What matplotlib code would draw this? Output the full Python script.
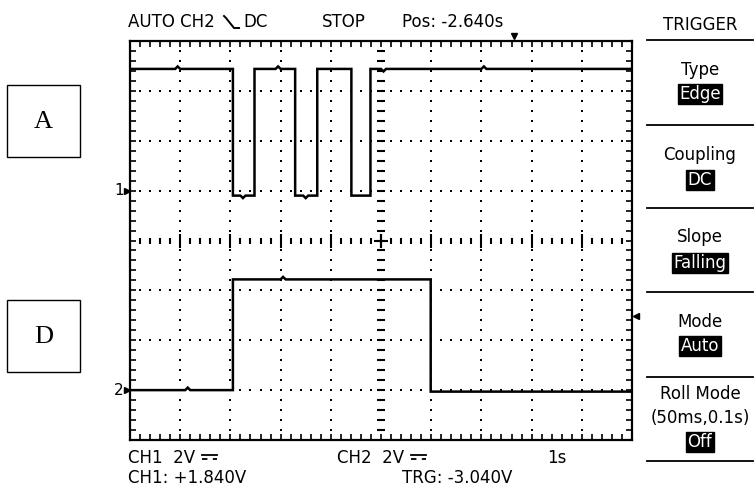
import matplotlib.pyplot as plt
import numpy as np
from matplotlib.patches import Rectangle
from matplotlib.lines import Line2D

##### scope settings (10 x 8 divisions)
time_per_div = 1.0          # 1s
ch1_volts_per_div = 2.0     # CH1 2V
ch2_volts_per_div = 2.0     # CH2 2V
ch1_ground_div = 1.0        # marker "1"
ch2_ground_div = -3.0       # marker "2"
trig_pos_s = -2.640
trig_level_v = -3.040

##### CH1 (A) three low pulses
ch1_t = [0.0, 0.9, 0.95, 1.0, 2.05, 2.05, 2.2, 2.25, 2.3, 2.48, 2.48, 2.9, 2.95, 3.0, 3.29, 3.29,
         3.45, 3.5, 3.55, 3.73, 3.73, 4.41, 4.41, 4.79, 4.79, 5.0, 5.05, 5.1, 7.0, 7.05, 7.1, 10.0]
ch1_v = [4.88, 4.88, 4.98, 4.88, 4.88, -0.2, -0.2, -0.3, -0.2, -0.2, 4.88, 4.88, 4.98, 4.88, 4.88, -0.2,
         -0.2, -0.3, -0.2, -0.2, 4.88, 4.88, -0.2, -0.2, 4.88, 4.88, 4.78, 4.88, 4.88, 4.98, 4.88, 4.88]

##### CH2 (D) one high pulse
ch2_t = [0.0, 1.1, 1.15, 1.2, 2.05, 2.05, 3.0, 3.05, 3.1, 5.99, 5.99, 10.0]
ch2_v = [0.0, 0.0, 0.1, 0.0, 0.0, 4.44, 4.44, 4.54, 4.44, 4.44, -0.06, -0.06]

W, H = 755, 488
fig = plt.figure(figsize=(W / 100, H / 100), dpi=100)
fig.patch.set_facecolor('white')

def fx(px):
    return px / W

def fy(py):
    return 1 - py / H

ax = fig.add_axes([fx(130), fy(440), fx(632) - fx(130), fy(41) - fy(440)])
ax.set_xlim(0, 10)
ax.set_ylim(-4, 4)
for s in ax.spines.values():
    s.set_linewidth(1.6)
ax.set_xticks(np.arange(0, 10.01, 0.2))
ax.set_yticks(np.arange(-4, 4.01, 0.2))
ax.tick_params(direction='in', length=4, width=1.2, top=True, right=True,
               labelbottom=False, labelleft=False)

##### graticule
xs = np.arange(0, 10.01, 0.2)[1:-1]
ys = np.arange(-4, 4.01, 0.2)[1:-1]
for k in range(1, 10):
    if k != 5:
        ax.plot([k] * len(ys), ys, 's', ms=1.8, color='black', mew=0)
for m in range(-3, 4):
    if m != 0:
        ax.plot(xs, [m] * len(xs), 's', ms=1.8, color='black', mew=0)
ax.plot([5] * len(ys), ys, '_', ms=6, mew=1.5, color='black')
major = np.isclose(xs, np.round(xs))
ax.plot(xs[~major], [0] * (~major).sum(), '|', ms=5, mew=1.5, color='black')
ax.plot(xs[major], [0] * major.sum(), '|', ms=10, mew=1.5, color='black')
ax.plot([5], [0], '+', ms=10, mew=1.5, color='black')

##### traces
ax.plot(np.array(ch1_t) / time_per_div, ch1_ground_div + np.array(ch1_v) / ch1_volts_per_div,
        color='black', lw=1.8, solid_joinstyle='miter')
ax.plot(np.array(ch2_t) / time_per_div, ch2_ground_div + np.array(ch2_v) / ch2_volts_per_div,
        color='black', lw=1.8, solid_joinstyle='miter')

# ground / trigger markers
ax.plot([-0.06], [ch1_ground_div], '>', ms=4, color='black', clip_on=False)
ax.plot([-0.06], [ch2_ground_div], '>', ms=4, color='black', clip_on=False)
ax.text(-0.13, ch1_ground_div, '1', ha='right', va='center', fontsize=11)
ax.text(-0.13, ch2_ground_div, '2', ha='right', va='center', fontsize=11)
ax.plot([10.07], [trig_level_v / ch2_volts_per_div], '<', ms=4, color='black', clip_on=False)
ax.plot([5 - trig_pos_s / time_per_div], [4.1], 'v', ms=4, color='black', clip_on=False)

##### header / footer text
fs = 12
fig.text(fx(128), fy(22), 'AUTO CH2', fontsize=fs, va='center')
# falling edge symbol
fig.add_artist(Line2D([fx(224), fx(226), fx(234), fx(239)], [fy(16), fy(18), fy(28), fy(28)],
                      color='black', lw=1.4))
fig.text(fx(243), fy(22), 'DC', fontsize=fs, va='center')
fig.text(fx(322), fy(22), 'STOP', fontsize=fs, va='center')
fig.text(fx(402), fy(22), 'Pos: -2.640s', fontsize=fs, va='center')

fig.text(fx(128), fy(458), 'CH1  2V', fontsize=fs, va='center')
fig.text(fx(128), fy(478), 'CH1: +1.840V', fontsize=fs, va='center')
fig.text(fx(337), fy(458), 'CH2  2V', fontsize=fs, va='center')
fig.text(fx(402), fy(478), 'TRG: -3.040V', fontsize=fs, va='center')
fig.text(fx(547), fy(458), '1s', fontsize=fs, va='center')
# DC coupling symbols (no installed font has U+2393)
for x0 in [202, 411]:
    fig.add_artist(Line2D([fx(x0), fx(x0 + 15)], [fy(455), fy(455)], color='black', lw=1.3))
    fig.add_artist(Line2D([fx(x0), fx(x0 + 15)], [fy(459), fy(459)], color='black', lw=1.3,
                          linestyle=(0, (3, 3))))

##### trigger menu
fig.text(fx(700), fy(25), 'TRIGGER', fontsize=fs, ha='center', va='center')
for yy in [40, 125, 208, 292, 377, 461]:
    fig.add_artist(Line2D([fx(647), fx(753)], [fy(yy), fy(yy)], color='black', lw=1.3))

menu = [('Type', 70), ('Coupling', 155), ('Slope', 237), ('Mode', 322), ('Roll Mode', 394),
        ('(50ms,0.1s)', 418)]
for label, yy in menu:
    fig.text(fx(700), fy(yy), label, fontsize=fs, ha='center', va='center')
chosen = [('Edge', 94), ('DC', 180), ('Falling', 263), ('Auto', 346), ('Off', 442)]
for label, yy in chosen:
    fig.text(fx(700), fy(yy), label, fontsize=fs, ha='center', va='center', color='white',
             bbox=dict(boxstyle='square,pad=0.08', facecolor='black', edgecolor='black'))

##### A / D boxes
for letter, y0 in [('A', 85), ('D', 300)]:
    fig.add_artist(Rectangle((fx(7), fy(y0 + 72)), fx(80) - fx(7), fy(y0) - fy(y0 + 72),
                             fill=False, edgecolor='black', lw=1.0))
    fig.text(fx(43.5), fy(y0 + 37), letter, fontsize=19, ha='center', va='center',
             family=['Liberation Serif', 'DejaVu Serif'])

fig.savefig('out.png', dpi=100)
